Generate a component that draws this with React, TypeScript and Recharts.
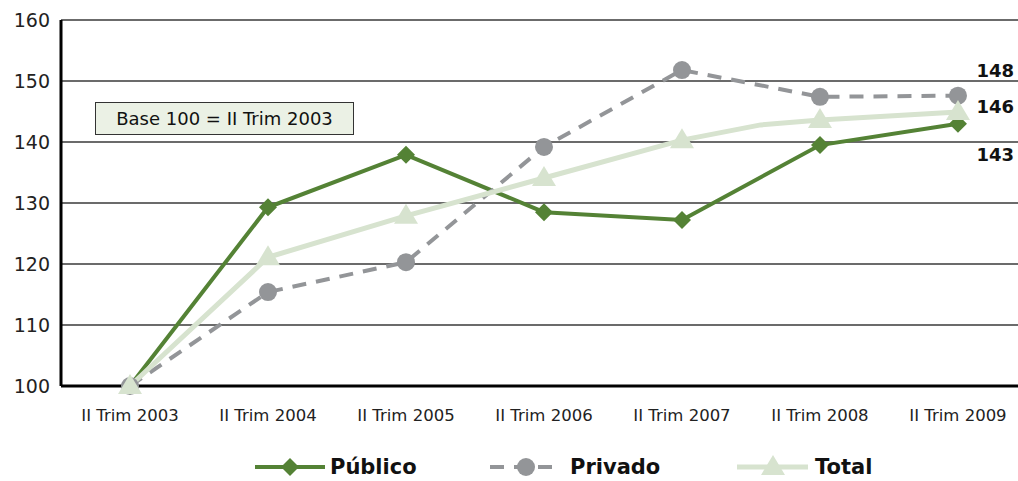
import React from 'react';
import { LineChart, Line, XAxis, YAxis, CartesianGrid, Legend } from 'recharts';

// categories and readings (index base 100 = II Trim 2003)
const categories = ['II Trim 2003', 'II Trim 2004', 'II Trim 2005', 'II Trim 2006', 'II Trim 2007', 'II Trim 2008', 'II Trim 2009'];
const publico = [100, 129.3, 137.9, 128.5, 127.2, 139.5, 143];
const privado = [100, 115.4, 120.3, 139.2, 151.8, 147.4, 147.6];
const total = [100, 121.1, 127.9, 134.1, 140.3, 143.6, 144.9];
// total line has one extra unmarked vertex between 2007 and 2008
const totalExtra = { x: 4.57, value: 142.8 };
const yTicks = [100, 110, 120, 130, 140, 150, 160];
const endLabels = { publico: '143', privado: '148', total: '146' };

const FONT = "'DejaVu Sans', sans-serif";
const GREEN = '#548235';
const GREY = '#939598';
const LIGHT = '#d7e3cf';

const publicoData = publico.map((v, i) => ({ x: i, value: v, marker: true }));
const privadoData = privado.map((v, i) => ({ x: i, value: v, marker: true }));
const totalData = [
  ...total.slice(0, 5).map((v, i) => ({ x: i, value: v, marker: true })),
  { ...totalExtra, marker: false },
  ...total.slice(5).map((v, i) => ({ x: i + 5, value: v, marker: true })),
];

const Diamond = ({ cx, cy, fill, s = 9 }: any) => (
  <polygon points={`${cx},${cy - s} ${cx + s},${cy} ${cx},${cy + s} ${cx - s},${cy}`} fill={fill} />
);
const Triangle = ({ cx, cy, fill }: any) => (
  <polygon points={`${cx},${cy - 12} ${cx + 12},${cy + 8} ${cx - 12},${cy + 8}`} fill={fill} />
);

const publicoDot = (p: any) => <Diamond key={`pd${p.index}`} cx={p.cx} cy={p.cy} fill={GREEN} />;
const privadoDot = (p: any) => <circle key={`cd${p.index}`} cx={p.cx} cy={p.cy} r={9} fill={GREY} />;
const totalDot = (p: any) =>
  p.payload && p.payload.marker ? <Triangle key={`td${p.index}`} cx={p.cx} cy={p.cy} fill={LIGHT} /> : <g key={`td${p.index}`} />;

const endLabel = (text: string, dy: number, last: number) => (p: any) => {
  if (p.index !== last) return null;
  return (
    <text x={1014} y={p.y + dy} textAnchor="end" dominantBaseline="central"
      fontFamily={FONT} fontSize={18} fontWeight="bold" fill="#111">
      {text}
    </text>
  );
};

const LegendContent = () => (
  <svg width={1018} height={40}>
    <g fontFamily={FONT} fontSize={21} fontWeight="bold" fill="#111">
      <line x1={255} x2={325} y1={20} y2={20} stroke={GREEN} strokeWidth={4} />
      <Diamond cx={290} cy={20} fill={GREEN} />
      <text x={330} y={20} dominantBaseline="central">Público</text>

      <line x1={490} x2={562} y1={20} y2={20} stroke={GREY} strokeWidth={4} strokeDasharray="14 10" />
      <circle cx={526} cy={20} r={9} fill={GREY} />
      <text x={570} y={20} dominantBaseline="central">Privado</text>

      <line x1={737} x2={808} y1={20} y2={20} stroke={LIGHT} strokeWidth={5} />
      <Triangle cx={773} cy={20} fill={LIGHT} />
      <text x={815} y={20} dominantBaseline="central">Total</text>
    </g>
  </svg>
);

export default function App() {
  return (
    <div style={{ position: 'absolute', left: 0, top: 0, width: 1018, height: 481, background: '#fff' }}>
      <LineChart width={1018} height={481} margin={{ top: 20, right: 0, left: 0, bottom: 65 }}>
        <CartesianGrid vertical={false} stroke="#3a3a3a" strokeWidth={1.5} />
        <XAxis
          dataKey="x"
          type="number"
          domain={[-0.5, 6.435]}
          ticks={[0, 1, 2, 3, 4, 5, 6]}
          tickFormatter={(v: number) => categories[v]}
          height={30}
          tickSize={0}
          tickMargin={23}
          allowDuplicatedCategory={false}
          axisLine={{ stroke: '#000', strokeWidth: 3 }}
          tick={{ fill: '#222', fontSize: 16.5, fontFamily: FONT }}
        />
        <YAxis
          domain={[100, 160]}
          ticks={yTicks}
          width={61}
          tickSize={0}
          tickMargin={11}
          axisLine={{ stroke: '#000', strokeWidth: 3 }}
          tick={{ fill: '#222', fontSize: 19, fontFamily: FONT }}
        />
        <Legend verticalAlign="middle" content={<LegendContent />}
          wrapperStyle={{ top: 447, left: 0, width: 1018, height: 40 }} />
        <Line data={publicoData} dataKey="value" name="Público" stroke={GREEN} strokeWidth={4}
          dot={publicoDot} activeDot={false} isAnimationActive={false}
          label={endLabel(endLabels.publico, 31, 6)} />
        <Line data={privadoData} dataKey="value" name="Privado" stroke={GREY} strokeWidth={4}
          strokeDasharray="14 10" dot={privadoDot} activeDot={false} isAnimationActive={false}
          label={endLabel(endLabels.privado, -25, 6)} />
        <Line data={totalData} dataKey="value" name="Total" stroke={LIGHT} strokeWidth={5}
          dot={totalDot} activeDot={false} isAnimationActive={false}
          label={endLabel(endLabels.total, -6, 7)} />
      </LineChart>
      <div style={{
        position: 'absolute', left: 95, top: 102, width: 259, height: 33,
        background: '#ebf1e5', border: '1px solid #333', boxSizing: 'border-box',
        fontFamily: FONT, fontSize: 18, color: '#111',
        display: 'flex', alignItems: 'center', justifyContent: 'center',
      }}>
        Base 100 = II Trim 2003
      </div>
    </div>
  );
}
